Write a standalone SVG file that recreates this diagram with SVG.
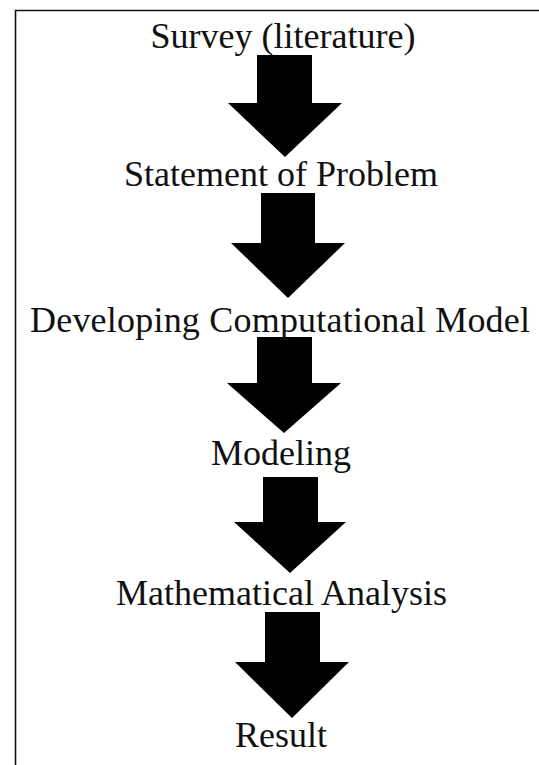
<svg xmlns="http://www.w3.org/2000/svg" width="539" height="765" viewBox="0 0 539 765">
<style>
.lbl{font-family:"Liberation Serif","Times New Roman",serif;font-size:36px;fill:#111;text-anchor:middle}
.arr{fill:#000}
.frame{fill:none;stroke:#111;stroke-width:1.6}
</style>
<rect width="539" height="765" fill="#fff"/>
<path class="frame" d="M15.5,766 V10.5 H540"/>
<g id="connectors">
<path id="a1" class="arr" d="M257,55 H312 V103 H342 L285,157 L228,103 H257 Z"/>
<path id="a2" class="arr" d="M261,193 H315 V243 H345 L288,298 L231,243 H261 Z"/>
<path id="a3" class="arr" d="M257,337 H312 V383 H341 L284,433 L227,383 H257 Z"/>
<path id="a4" class="arr" d="M263,477 H318 V522 H346 L290,573 L234,522 H263 Z"/>
<path id="a5" class="arr" d="M265,612 H320 V662 H349 L292,718 L235,662 H265 Z"/>
</g>
<g id="n1"><text class="lbl" x="283" y="48">Survey (literature)</text></g>
<g id="n2"><text class="lbl" x="281" y="186">Statement of Problem</text></g>
<g id="n3"><text class="lbl" x="280" y="332" textLength="500">Developing Computational Model</text></g>
<g id="n4"><text class="lbl" x="281" y="465">Modeling</text></g>
<g id="n5"><text class="lbl" x="281.5" y="605">Mathematical Analysis</text></g>
<g id="n6"><text class="lbl" x="281" y="747">Result</text></g>
</svg>
